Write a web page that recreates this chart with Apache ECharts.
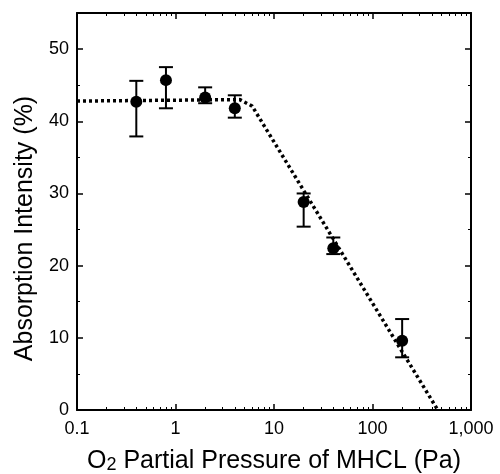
<!DOCTYPE html>
<html>
<head>
<meta charset="utf-8">
<script src="https://cdn.jsdelivr.net/npm/echarts@6/dist/echarts.min.js"></script>
<style>
html,body{margin:0;padding:0;background:#fff;}
#chart{width:500px;height:474px;}
</style>
</head>
<body>
<div id="chart"></div>
<script>
// Measured data (O2 partial pressure in Pa, absorption intensity in %)
const pressure = [0.4, 0.8, 2, 4, 20, 40, 200];
const intensity = [42.7, 45.7, 43.3, 41.8, 28.8, 22.4, 9.6];
const errLow = [37.9, 41.8, 42.5, 40.5, 25.4, 21.6, 7.3];
const errHigh = [45.6, 47.5, 44.7, 43.6, 30.0, 23.9, 12.6];

// Dotted guide line
const fitX = [0.1, 4.5, 6, 7, 460];
const fitY = [42.8, 43.0, 42.1, 40.6, 0];

// Tick labels
const xTickLabels = {0.1: '0.1', 1: '1', 10: '10', 100: '100', 1000: '1,000'};
const yTicks = [0, 10, 20, 30, 40, 50];

const FONT = '"Liberation Sans", Arial, sans-serif';
const chart = echarts.init(document.getElementById('chart'));

function xLabel(v) {
  const key = Number(v.toPrecision(6));
  return xTickLabels[key] !== undefined ? xTickLabels[key] : '';
}

const axisLine = {show: true, onZero: false, lineStyle: {color: '#000', width: 2}};
const majorTick = {show: true, inside: true, length: 6, lineStyle: {color: '#000', width: 1.5}};
const logMinor = {show: true, splitNumber: 9, length: 3, lineStyle: {color: '#000', width: 1}};
const linMinor = {show: true, splitNumber: 2, length: 3, lineStyle: {color: '#000', width: 1}};

const option = {
  animation: false,
  backgroundColor: '#fff',
  grid: {left: 77, right: 29, top: 13, bottom: 64, containLabel: false, outerBoundsMode: 'none'},
  xAxis: [
    {
      type: 'log', logBase: 10, min: 0.1, max: 1000, position: 'bottom',
      axisLine: axisLine, axisTick: majorTick, minorTick: logMinor,
      splitLine: {show: false},
      axisLabel: {formatter: xLabel, color: '#000', fontSize: 18, fontFamily: FONT, margin: 10},
      name: '{a|O}{s|2}{a| Partial Pressure of MHCL (Pa)}',
      nameLocation: 'middle', nameGap: 39,
      nameTextStyle: {
        color: '#000',
        rich: {
          a: {fontSize: 25, fontFamily: FONT, color: '#000'},
          s: {fontSize: 18, fontFamily: FONT, color: '#000', verticalAlign: 'bottom'}
        }
      }
    },
    {
      type: 'log', logBase: 10, min: 0.1, max: 1000, position: 'top',
      axisLine: axisLine, axisTick: majorTick, minorTick: logMinor,
      splitLine: {show: false},
      axisLabel: {show: false}
    }
  ],
  yAxis: [
    {
      type: 'value', min: 0, max: 55, interval: 10, position: 'left',
      axisLine: axisLine, axisTick: majorTick, minorTick: linMinor,
      splitLine: {show: false},
      axisLabel: {
        color: '#000', fontSize: 18, fontFamily: FONT, margin: 8,
        formatter: v => (yTicks.indexOf(v) >= 0 ? String(v) : '')
      },
      name: 'Absorption Intensity (%)',
      nameLocation: 'middle', nameGap: 39,
      nameTextStyle: {color: '#000', fontSize: 25, fontFamily: FONT, padding: [0, 34, 0, 0]}
    },
    {
      type: 'value', min: 0, max: 55, interval: 10, position: 'right',
      axisLine: axisLine, axisTick: majorTick, minorTick: linMinor,
      splitLine: {show: false},
      axisLabel: {show: false}
    }
  ],
  series: [
    {
      type: 'line',
      data: fitX.map((x, i) => [x, fitY[i]]),
      showSymbol: false, symbol: 'none',
      lineStyle: {color: '#000', width: 3.5, type: [3, 3], cap: 'butt'},
      z: 1
    },
    {
      type: 'custom',
      data: pressure.map((p, i) => [p, errLow[i], errHigh[i]]),
      renderItem: function (params, api) {
        const lo = api.coord([api.value(0), api.value(1)]);
        const hi = api.coord([api.value(0), api.value(2)]);
        const hw = 7;
        const st = {stroke: '#000', lineWidth: 2};
        return {
          type: 'group',
          children: [
            {type: 'line', shape: {x1: lo[0], y1: lo[1], x2: hi[0], y2: hi[1]}, style: st},
            {type: 'line', shape: {x1: lo[0] - hw, y1: lo[1], x2: lo[0] + hw, y2: lo[1]}, style: st},
            {type: 'line', shape: {x1: hi[0] - hw, y1: hi[1], x2: hi[0] + hw, y2: hi[1]}, style: st}
          ]
        };
      },
      z: 2
    },
    {
      type: 'scatter',
      data: pressure.map((p, i) => [p, intensity[i]]),
      symbol: 'circle', symbolSize: 12,
      itemStyle: {color: '#000', opacity: 1},
      z: 3
    }
  ]
};
chart.setOption(option);
</script>
</body>
</html>
